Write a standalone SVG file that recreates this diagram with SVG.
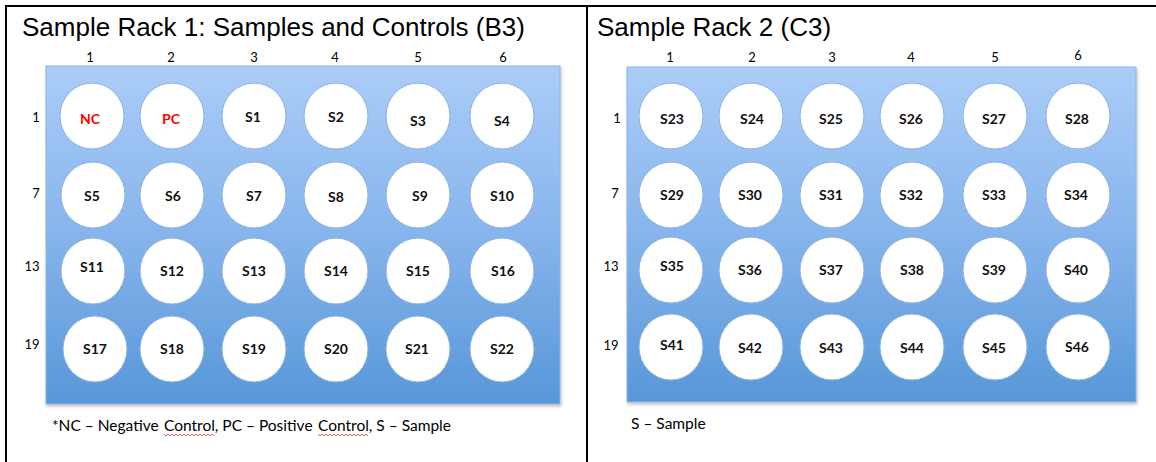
<svg xmlns="http://www.w3.org/2000/svg" width="1156" height="462" viewBox="0 0 1156 462">
<defs>
<linearGradient id="plateGrad" x1="0" y1="0" x2="0" y2="1">
<stop offset="0" stop-color="#abcdf8"/>
<stop offset="0.5" stop-color="#86b4ec"/>
<stop offset="1" stop-color="#5797d8"/>
</linearGradient>
<filter id="shadow" x="-5%" y="-5%" width="110%" height="115%">
<feDropShadow dx="1" dy="2" stdDeviation="1.5" flood-color="#000" flood-opacity="0.25"/>
</filter>
</defs>
<style>
.title{font-family:"Liberation Sans",Arial,sans-serif;font-size:26px;fill:#000}
.plate{fill:url(#plateGrad);stroke:#8eb4e6;stroke-width:1;filter:url(#shadow)}
.well{fill:#fff;stroke:#8fb2de;stroke-width:1}
.wl{font-family:Lato,"Open Sans",sans-serif;font-weight:700;font-size:14px;text-anchor:middle;fill:#111}
.red{fill:#ff0000}
.ax{font-family:Lato,"Open Sans",sans-serif;font-size:13px;text-anchor:middle;fill:#000}
.note{font-family:Lato,"Open Sans",sans-serif;font-size:15.5px;fill:#000}
.frame{stroke:#000;stroke-width:2;fill:none}
.squig{stroke:#e0303a;stroke-width:0.8;fill:none}
</style>
<g id="frame">
<line class="frame" x1="5" y1="6" x2="1156" y2="6"/>
<line class="frame" x1="6" y1="5" x2="6" y2="462"/>
<line class="frame" x1="587" y1="5" x2="587" y2="462"/>
</g>
<g id="rack1">
<text class="title" x="22" y="36">Sample Rack 1: Samples and Controls (B3)</text>
<rect class="plate" x="46" y="66" width="514" height="338"/>
<g id="rack1-cols">
<text class="ax" x="90" y="62">1</text>
<text class="ax" x="171" y="62">2</text>
<text class="ax" x="254" y="62">3</text>
<text class="ax" x="335" y="62">4</text>
<text class="ax" x="418" y="62">5</text>
<text class="ax" x="503" y="62">6</text>
</g>
<g id="rack1-rows">
<text class="ax" x="36" y="122">1</text>
<text class="ax" x="36" y="198">7</text>
<text class="ax" x="32" y="271">13</text>
<text class="ax" x="32" y="349">19</text>
</g>
<g id="NC"><ellipse class="well" cx="92" cy="116" rx="32" ry="33"/><text class="wl red" x="90" y="124">NC</text></g>
<g id="PC"><ellipse class="well" cx="172" cy="116" rx="32" ry="33"/><text class="wl red" x="171" y="124">PC</text></g>
<g id="S1"><ellipse class="well" cx="254" cy="116" rx="32" ry="33"/><text class="wl" x="253" y="122">S1</text></g>
<g id="S2"><ellipse class="well" cx="336" cy="116" rx="32" ry="33"/><text class="wl" x="336" y="122">S2</text></g>
<g id="S3"><ellipse class="well" cx="418" cy="116" rx="32" ry="33"/><text class="wl" x="418" y="126">S3</text></g>
<g id="S4"><ellipse class="well" cx="502" cy="116" rx="32" ry="33"/><text class="wl" x="502" y="126">S4</text></g>
<g id="S5"><ellipse class="well" cx="93" cy="195" rx="32" ry="33"/><text class="wl" x="92" y="201">S5</text></g>
<g id="S6"><ellipse class="well" cx="172" cy="195" rx="32" ry="33"/><text class="wl" x="173" y="201">S6</text></g>
<g id="S7"><ellipse class="well" cx="254" cy="195" rx="32" ry="33"/><text class="wl" x="254" y="201">S7</text></g>
<g id="S8"><ellipse class="well" cx="336" cy="195" rx="32" ry="33"/><text class="wl" x="336" y="202">S8</text></g>
<g id="S9"><ellipse class="well" cx="418" cy="195" rx="32" ry="33"/><text class="wl" x="420" y="201">S9</text></g>
<g id="S10"><ellipse class="well" cx="502" cy="195" rx="32" ry="33"/><text class="wl" x="502" y="201">S10</text></g>
<g id="S11"><ellipse class="well" cx="93" cy="271" rx="32" ry="33"/><text class="wl" x="92" y="272">S11</text></g>
<g id="S12"><ellipse class="well" cx="172" cy="271" rx="32" ry="33"/><text class="wl" x="172" y="276">S12</text></g>
<g id="S13"><ellipse class="well" cx="254" cy="271" rx="32" ry="33"/><text class="wl" x="254" y="276">S13</text></g>
<g id="S14"><ellipse class="well" cx="336" cy="271" rx="32" ry="33"/><text class="wl" x="336" y="276">S14</text></g>
<g id="S15"><ellipse class="well" cx="418" cy="271" rx="32" ry="33"/><text class="wl" x="418" y="276">S15</text></g>
<g id="S16"><ellipse class="well" cx="502" cy="271" rx="32" ry="33"/><text class="wl" x="503" y="276">S16</text></g>
<g id="S17"><ellipse class="well" cx="95" cy="349" rx="32" ry="33"/><text class="wl" x="95" y="354">S17</text></g>
<g id="S18"><ellipse class="well" cx="172" cy="349" rx="32" ry="33"/><text class="wl" x="172" y="354">S18</text></g>
<g id="S19"><ellipse class="well" cx="254" cy="349" rx="32" ry="33"/><text class="wl" x="254" y="354">S19</text></g>
<g id="S20"><ellipse class="well" cx="336" cy="349" rx="32" ry="33"/><text class="wl" x="336" y="354">S20</text></g>
<g id="S21"><ellipse class="well" cx="418" cy="349" rx="32" ry="33"/><text class="wl" x="417" y="354">S21</text></g>
<g id="S22"><ellipse class="well" cx="502" cy="349" rx="32" ry="33"/><text class="wl" x="502" y="354">S22</text></g>
<g id="note1">
<text class="note" y="431"><tspan x="52">*NC – Negative</tspan><tspan x="164">Control</tspan><tspan>, PC – Positive</tspan><tspan x="318">Control</tspan><tspan>, S – Sample</tspan></text>
<path class="squig" d="M164 434 l2 2 l2 -2 l2 2 l2 -2 l2 2 l2 -2 l2 2 l2 -2 l2 2 l2 -2 l2 2 l2 -2 l2 2 l2 -2 l2 2 l2 -2 l2 2 l2 -2 l2 2 l2 -2 l2 2 l2 -2 l2 2 l2 -2 l2 2"/>
<path class="squig" d="M318 434 l2 2 l2 -2 l2 2 l2 -2 l2 2 l2 -2 l2 2 l2 -2 l2 2 l2 -2 l2 2 l2 -2 l2 2 l2 -2 l2 2 l2 -2 l2 2 l2 -2 l2 2 l2 -2 l2 2 l2 -2 l2 2 l2 -2 l2 2"/>
</g>
</g>
<g id="rack2">
<text class="title" x="597" y="36">Sample Rack 2 (C3)</text>
<rect class="plate" x="627" y="67" width="509" height="335"/>
<g id="rack2-cols">
<text class="ax" x="670" y="62">1</text>
<text class="ax" x="752" y="62">2</text>
<text class="ax" x="832" y="62">3</text>
<text class="ax" x="911" y="62">4</text>
<text class="ax" x="995" y="62">5</text>
<text class="ax" x="1078" y="60">6</text>
</g>
<g id="rack2-rows">
<text class="ax" x="617" y="123">1</text>
<text class="ax" x="615" y="198">7</text>
<text class="ax" x="611" y="271">13</text>
<text class="ax" x="611" y="350">19</text>
</g>
<g id="S23"><ellipse class="well" cx="671" cy="116" rx="32" ry="33"/><text class="wl" x="672" y="124">S23</text></g>
<g id="S24"><ellipse class="well" cx="751" cy="116" rx="32" ry="33"/><text class="wl" x="752" y="124">S24</text></g>
<g id="S25"><ellipse class="well" cx="832" cy="116" rx="32" ry="33"/><text class="wl" x="831" y="124">S25</text></g>
<g id="S26"><ellipse class="well" cx="912" cy="116" rx="32" ry="33"/><text class="wl" x="911" y="124">S26</text></g>
<g id="S27"><ellipse class="well" cx="995" cy="116" rx="32" ry="33"/><text class="wl" x="994" y="124">S27</text></g>
<g id="S28"><ellipse class="well" cx="1078" cy="116" rx="32" ry="33"/><text class="wl" x="1077" y="124">S28</text></g>
<g id="S29"><ellipse class="well" cx="671" cy="195" rx="32" ry="33"/><text class="wl" x="672" y="200">S29</text></g>
<g id="S30"><ellipse class="well" cx="751" cy="195" rx="32" ry="33"/><text class="wl" x="750" y="200">S30</text></g>
<g id="S31"><ellipse class="well" cx="832" cy="195" rx="32" ry="33"/><text class="wl" x="831" y="200">S31</text></g>
<g id="S32"><ellipse class="well" cx="912" cy="195" rx="32" ry="33"/><text class="wl" x="911" y="200">S32</text></g>
<g id="S33"><ellipse class="well" cx="995" cy="195" rx="32" ry="33"/><text class="wl" x="994" y="200">S33</text></g>
<g id="S34"><ellipse class="well" cx="1078" cy="195" rx="32" ry="33"/><text class="wl" x="1076" y="200">S34</text></g>
<g id="S35"><ellipse class="well" cx="671" cy="270" rx="32" ry="33"/><text class="wl" x="672" y="271">S35</text></g>
<g id="S36"><ellipse class="well" cx="751" cy="270" rx="32" ry="33"/><text class="wl" x="750" y="275">S36</text></g>
<g id="S37"><ellipse class="well" cx="832" cy="270" rx="32" ry="33"/><text class="wl" x="831" y="275">S37</text></g>
<g id="S38"><ellipse class="well" cx="912" cy="270" rx="32" ry="33"/><text class="wl" x="912" y="275">S38</text></g>
<g id="S39"><ellipse class="well" cx="995" cy="270" rx="32" ry="33"/><text class="wl" x="994" y="275">S39</text></g>
<g id="S40"><ellipse class="well" cx="1078" cy="270" rx="32" ry="33"/><text class="wl" x="1076" y="275">S40</text></g>
<g id="S41"><ellipse class="well" cx="671" cy="347" rx="32" ry="33"/><text class="wl" x="672" y="350">S41</text></g>
<g id="S42"><ellipse class="well" cx="751" cy="347" rx="32" ry="33"/><text class="wl" x="750" y="353">S42</text></g>
<g id="S43"><ellipse class="well" cx="832" cy="347" rx="32" ry="33"/><text class="wl" x="831" y="353">S43</text></g>
<g id="S44"><ellipse class="well" cx="912" cy="347" rx="32" ry="33"/><text class="wl" x="912" y="353">S44</text></g>
<g id="S45"><ellipse class="well" cx="995" cy="347" rx="32" ry="33"/><text class="wl" x="994" y="353">S45</text></g>
<g id="S46"><ellipse class="well" cx="1078" cy="347" rx="32" ry="33"/><text class="wl" x="1077" y="352">S46</text></g>
<g id="note2">
<text class="note" x="631" y="429">S – Sample</text>
</g>
</g>
</svg>
